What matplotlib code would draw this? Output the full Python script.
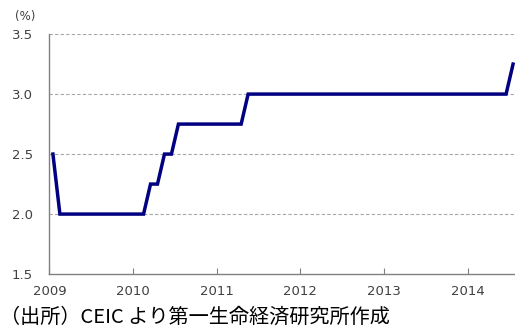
import matplotlib.pyplot as plt

# policy rate, monthly, Jan 2009 - Jul 2014
months = list(range(67))
rate = [2.5,
        2.0, 2.0, 2.0, 2.0, 2.0, 2.0, 2.0, 2.0, 2.0, 2.0, 2.0,
        2.0, 2.0, 2.25, 2.25, 2.5, 2.5, 2.75, 2.75, 2.75, 2.75, 2.75, 2.75,
        2.75, 2.75, 2.75, 2.75, 3.0, 3.0, 3.0, 3.0, 3.0, 3.0, 3.0, 3.0,
        3.0, 3.0, 3.0, 3.0, 3.0, 3.0, 3.0, 3.0, 3.0, 3.0, 3.0, 3.0,
        3.0, 3.0, 3.0, 3.0, 3.0, 3.0, 3.0, 3.0, 3.0, 3.0, 3.0, 3.0,
        3.0, 3.0, 3.0, 3.0, 3.0, 3.0, 3.25]
year_ticks = [0, 12, 24, 36, 48, 60]
year_labels = ['2009', '2010', '2011', '2012', '2013', '2014']
y_ticks = [1.5, 2.0, 2.5, 3.0, 3.5]

fig = plt.figure(figsize=(5.15, 3.31), dpi=100)
ax = fig.add_axes([0.096, 0.172, 0.907, 0.725])

# points sit in the middle of each month slot, like an Excel date axis
ax.plot([m + 0.5 for m in months], rate, color='#000080', linewidth=2.5,
        solid_joinstyle='miter')

ax.set_xlim(0, 67)
ax.set_ylim(1.5, 3.5)
ax.set_yticks(y_ticks)
ax.set_yticklabels(['%.1f' % v for v in y_ticks])
ax.set_xticks(year_ticks)
ax.set_xticklabels(year_labels)

for v in y_ticks[1:]:
    ax.axhline(v, color='#a6a6a6', linestyle=(0, (3, 2)), linewidth=0.8, zorder=0)

for s in ['top', 'right']:
    ax.spines[s].set_visible(False)
for s in ['left', 'bottom']:
    ax.spines[s].set_color('#808080')
    ax.spines[s].set_linewidth(1.0)

ax.tick_params(axis='x', direction='in', length=4, color='#808080',
               labelsize=9.5, labelcolor='#404040', pad=8)
ax.tick_params(axis='y', length=0, labelsize=9.5, labelcolor='#404040', pad=12)

fig.text(0.03, 0.97, '(%)', fontsize=8.5, color='#404040', va='top')
fig.text(0.0, 0.025, '（出所）CEIC より第一生命経済研究所作成',
         fontsize=14.5, family=['Noto Sans CJK JP', 'DejaVu Sans'], color='black')

fig.savefig('out.png', dpi=100)
